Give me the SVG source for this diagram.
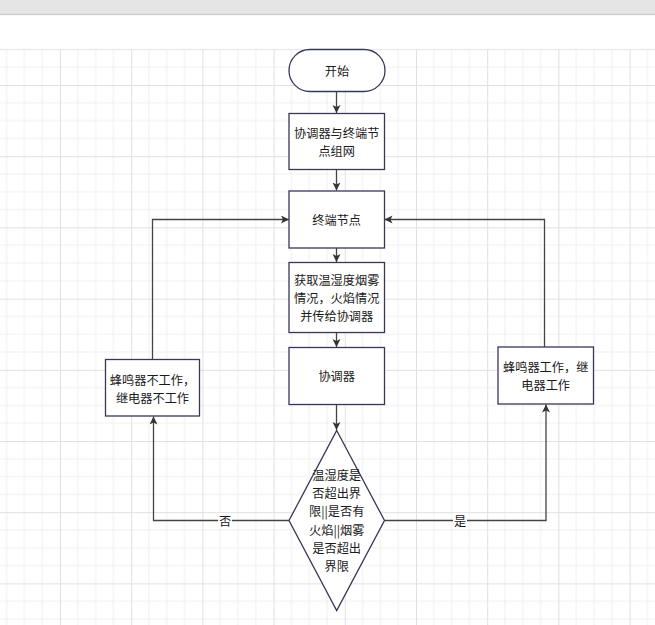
<svg xmlns="http://www.w3.org/2000/svg" width="655" height="625" viewBox="0 0 655 625">
  <style>
    .node { fill: #ffffff; stroke: #36385a; stroke-width: 1.3; }
    .edge { fill: none; stroke: #444444; stroke-width: 1.3; }
    .txt { font-family: "Noto Sans CJK SC", "Liberation Sans", sans-serif; font-size: 12.2px; fill: #1a1a1a; text-anchor: middle; dominant-baseline: central; }
    .lbl-bg { fill: #ffffff; }
  </style>
  <defs>
    <pattern id="grid" patternUnits="userSpaceOnUse" x="60" y="85" width="71.2" height="71.2">
      <path d="M17.8 0V71.2M35.6 0V71.2M53.4 0V71.2M0 17.8H71.2M0 35.6H71.2M0 53.4H71.2" fill="none" stroke="#efefef" stroke-width="1"/>
      <path d="M0.5 0V71.2M0 0.5H71.2" fill="none" stroke="#e0e0e0" stroke-width="1"/>
    </pattern>
    <marker id="arrow" markerUnits="userSpaceOnUse" markerWidth="10" markerHeight="10" refX="8" refY="4" orient="auto">
      <path d="M0,0 L8,4 L0,8 L2,4 Z" fill="#333333"/>
    </marker>
  </defs>

  <g id="background">
    <rect x="0" y="0" width="655" height="625" fill="#ffffff"/>
    <rect x="0" y="0" width="655" height="13.5" fill="#e5e5e5"/>
    <rect x="0" y="13.5" width="655" height="1.6" fill="#cdcdcd"/>
    <rect x="0" y="49" width="655" height="576" fill="url(#grid)"/>
    <line x1="0" y1="49.4" x2="655" y2="49.4" stroke="#e6e6e6" stroke-width="1"/>
  </g>

  <g id="connectors">
    <line class="edge" x1="336.5" y1="91.5" x2="336.5" y2="113" marker-end="url(#arrow)"/>
    <line class="edge" x1="336.5" y1="169.5" x2="336.5" y2="190.5" marker-end="url(#arrow)"/>
    <line class="edge" x1="336.5" y1="248" x2="336.5" y2="262" marker-end="url(#arrow)"/>
    <line class="edge" x1="336.5" y1="332.5" x2="336.5" y2="347" marker-end="url(#arrow)"/>
    <line class="edge" x1="336.5" y1="404.5" x2="336.5" y2="430" marker-end="url(#arrow)"/>
    <polyline class="edge" points="152.5,359.5 152.5,219.5 289,219.5" marker-end="url(#arrow)"/>
    <polyline class="edge" points="289,520.5 153.5,520.5 153.5,416.5" marker-end="url(#arrow)"/>
    <polyline class="edge" points="384.5,520.5 546,520.5 546,404.5" marker-end="url(#arrow)"/>
    <polyline class="edge" points="544.5,347 544.5,219.5 384.5,219.5" marker-end="url(#arrow)"/>
    <g id="label-no">
      <rect class="lbl-bg" x="218" y="513" width="14" height="15"/>
      <text class="txt" x="225" y="521">否</text>
    </g>
    <g id="label-yes">
      <rect class="lbl-bg" x="453" y="513" width="14" height="15"/>
      <text class="txt" x="460" y="521">是</text>
    </g>
  </g>

  <g id="start">
    <rect class="node" x="289" y="49.5" width="96" height="42" rx="21" ry="21"/>
    <text class="txt" x="337" y="71">开始</text>
  </g>

  <g id="network">
    <rect class="node" x="289" y="113.5" width="95.5" height="56"/>
    <text class="txt" x="336.7" y="132.5">协调器与终端节</text>
    <text class="txt" x="336.7" y="150.5">点组网</text>
  </g>

  <g id="terminal-node">
    <rect class="node" x="289" y="191" width="95.5" height="57"/>
    <text class="txt" x="336.7" y="219.5">终端节点</text>
  </g>

  <g id="acquire">
    <rect class="node" x="289" y="262.5" width="95.5" height="70"/>
    <text class="txt" x="336.7" y="280">获取温湿度烟雾</text>
    <text class="txt" x="336.7" y="298">情况，火焰情况</text>
    <text class="txt" x="336.7" y="316">并传给协调器</text>
  </g>

  <g id="coordinator">
    <rect class="node" x="289" y="347.5" width="95.5" height="57"/>
    <text class="txt" x="336.7" y="376">协调器</text>
  </g>

  <g id="decision">
    <polygon class="node" points="336.7,430.5 384.5,520.5 336.7,610.5 289,520.5"/>
    <text class="txt" x="336.7" y="475">温湿度是</text>
    <text class="txt" x="336.7" y="493.2">否超出界</text>
    <text class="txt" x="336.7" y="511.4">限||是否有</text>
    <text class="txt" x="336.7" y="529.6">火焰||烟雾</text>
    <text class="txt" x="336.7" y="547.8">是否超出</text>
    <text class="txt" x="336.7" y="566">界限</text>
  </g>

  <g id="alarm-off">
    <rect class="node" x="105.5" y="359.5" width="94" height="56.5"/>
    <text class="txt" x="152.5" y="379.5">蜂鸣器不工作，</text>
    <text class="txt" x="152.5" y="397.5">继电器不工作</text>
  </g>

  <g id="alarm-on">
    <rect class="node" x="498" y="347" width="95.5" height="57"/>
    <text class="txt" x="545.7" y="366.5">蜂鸣器工作，继</text>
    <text class="txt" x="545.7" y="385">电器工作</text>
  </g>
</svg>
